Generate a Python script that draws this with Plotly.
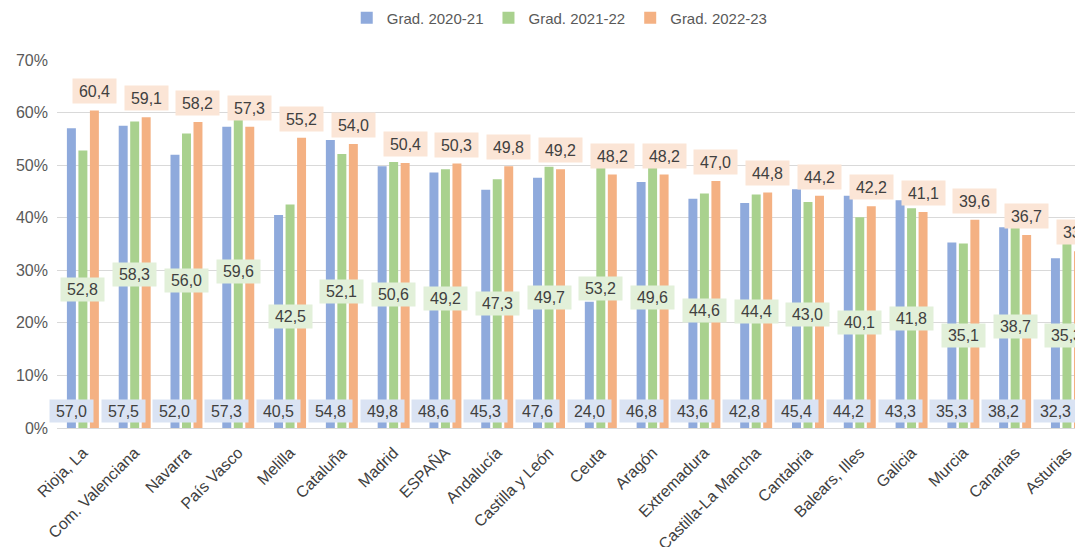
import plotly.graph_objects as go

categories = ["Rioja, La", "Com. Valenciana", "Navarra", "País Vasco", "Melilla", "Cataluña",
              "Madrid", "ESPAÑA", "Andalucía", "Castilla y León", "Ceuta", "Aragón",
              "Extremadura", "Castilla-La Mancha", "Cantabria", "Balears, Illes", "Galicia",
              "Murcia", "Canarias", "Asturias"]
grad_2020_21 = [57.0, 57.5, 52.0, 57.3, 40.5, 54.8, 49.8, 48.6, 45.3, 47.6, 24.0, 46.8,
                43.6, 42.8, 45.4, 44.2, 43.3, 35.3, 38.2, 32.3]
grad_2021_22 = [52.8, 58.3, 56.0, 59.6, 42.5, 52.1, 50.6, 49.2, 47.3, 49.7, 53.2, 49.6,
                44.6, 44.4, 43.0, 40.1, 41.8, 35.1, 38.7, 35.3]
grad_2022_23 = [60.4, 59.1, 58.2, 57.3, 55.2, 54.0, 50.4, 50.3, 49.8, 49.2, 48.2, 48.2,
                47.0, 44.8, 44.2, 42.2, 41.1, 39.6, 36.7, 33.6]
series_names = ["Grad. 2020-21", "Grad. 2021-22", "Grad. 2022-23"]
y_ticks = [0, 10, 20, 30, 40, 50, 60, 70]
y_tick_labels = ["0%", "10%", "20%", "30%", "40%", "50%", "60%", "70%"]

colors = ["#8faadc", "#a9d18e", "#f4b183"]
label_bg = ["#dae3f3", "#e2f0d9", "#fbe5d6"]
FONT = "Liberation Sans, Arial, sans-serif"

# page body adds an 8px offset; size the figure so the visible picture fits 1083x547
W, H = 1075, 539
ML, MR, MT, MB = 49, 0, 52, 119
BARGAP = 0.334
BARGROUPGAP = 0.22
XMAX = 19.31

fig = go.Figure()
all_series = [grad_2020_21, grad_2021_22, grad_2022_23]
for name, vals, c in zip(series_names, all_series, colors):
    fig.add_trace(go.Bar(x=categories, y=vals, name=name, marker_color=c,
                         marker_line_width=0, hoverinfo="skip"))

plot_w = W - ML - MR
plot_h = H - MT - MB
cat_px = plot_w / (XMAX + 0.5)
slot_px = cat_px * (1 - BARGAP) / 3

def fmt(v):
    return f"{v:.1f}".replace(".", ",")

annotations = []
for si, vals in enumerate(all_series):
    xs = (si - 1) * slot_px
    for cat, v in zip(categories, vals):
        if si == 0:
            y, ysh, h = 0, 17, 22
        elif si == 1:
            y, ysh, h = v / 2, 0, 23
        else:
            y, ysh, h = v, 19, 24
        annotations.append(dict(
            x=cat, y=y, xref="x", yref="y", text=fmt(v), showarrow=False,
            xshift=xs, yshift=ysh, xanchor="center", yanchor="middle",
            width=43, height=h, align="center", valign="middle",
            bgcolor=label_bg[si], borderpad=0,
            font=dict(family=FONT, size=16, color="#404040")))

fig.update_layout(
    width=W, height=H,
    margin=dict(l=ML, r=MR, t=MT, b=MB, autoexpand=False),
    paper_bgcolor="white", plot_bgcolor="white",
    barmode="group", bargap=BARGAP, bargroupgap=BARGROUPGAP,
    font=dict(family=FONT, size=15, color="#595959"),
    legend=dict(orientation="h", x=0.49, xanchor="center",
                y=1 + (MT - 10) / plot_h, yanchor="middle",
                font=dict(family=FONT, size=15, color="#595959"),
                itemwidth=30, tracegroupgap=0),
    annotations=annotations,
    showlegend=True,
)
fig.update_xaxes(range=[-0.5, XMAX], tickangle=-45, showgrid=False, automargin=False,
                 showline=True, linecolor="#d9d9d9", linewidth=1,
                 tickfont=dict(family=FONT, size=16, color="#404040"), ticks="",
                 ticklabelstandoff=8)
fig.update_yaxes(range=[0, 70], tickvals=y_ticks, ticktext=y_tick_labels, showgrid=True,
                 automargin=False,
                 gridcolor="#d9d9d9", gridwidth=1, zeroline=False, showline=False,
                 tickfont=dict(family=FONT, size=16, color="#595959"), ticks="",
                 ticklabelstandoff=8)

fig.write_html("out.html")
